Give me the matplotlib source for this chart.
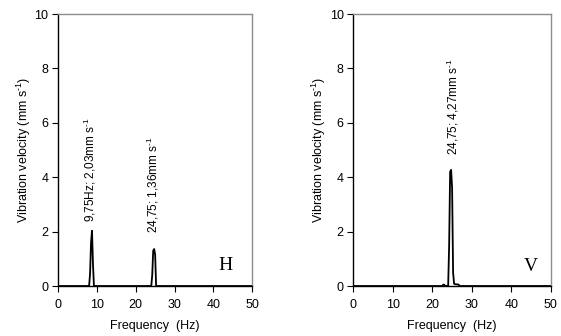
import matplotlib.pyplot as plt

plt.rcParams['font.family'] = ['Liberation Sans', 'DejaVu Sans']
plt.rcParams['mathtext.fontset'] = 'custom'
plt.rcParams['mathtext.rm'] = 'Liberation Sans'

# horizontal spectrum (H)
freq_h = [0, 8.0, 8.25, 8.5, 8.75, 9.0, 9.25, 24.0, 24.25, 24.5, 24.75, 25.0, 25.25, 50]
vel_h = [0, 0, 0.45, 1.6, 2.03, 0.8, 0, 0, 0.4, 1.3, 1.36, 1.15, 0, 0]

# vertical spectrum (V)
freq_v = [0, 22.5, 22.75, 23.0, 23.25, 24.0, 24.25, 24.5, 24.75, 25.0, 25.25, 25.5,
          26.0, 26.5, 27.0, 50]
vel_v = [0, 0, 0.05, 0.05, 0, 0, 1.5, 4.2, 4.27, 3.6, 0.5, 0.08,
         0.06, 0.06, 0, 0]

xticks = [0, 10, 20, 30, 40, 50]
yticks = [0, 2, 4, 6, 8, 10]

unit = r'mm s$^{\text{-1}}$'

fig = plt.figure(figsize=(5.61, 3.36), dpi=100)


def setup(ax):
    ax.set_xlim(0, 50)
    ax.set_ylim(0, 10)
    ax.set_xticks(xticks)
    ax.set_yticks(yticks)
    ax.tick_params(direction='out', length=4, width=0.8, labelsize=9,
                   top=False, right=False)
    ax.tick_params(axis='x', pad=5)
    ax.tick_params(axis='y', pad=3)
    for s in ['top', 'right']:
        ax.spines[s].set_color('#8c8c8c')
        ax.spines[s].set_linewidth(1.0)
    for s in ['left', 'bottom']:
        ax.spines[s].set_linewidth(1.0)
    ax.set_xlabel('Frequency  (Hz)', fontsize=9, labelpad=7)
    ax.set_ylabel('Vibration velocity (' + unit + ')', fontsize=9, labelpad=1)


ax1 = fig.add_axes([0.1034, 0.1488, 0.3463, 0.8095])
setup(ax1)
ax1.plot(freq_h, vel_h, color='black', lw=1.3)
ax1.text(8.2, 2.35, '9,75Hz; 2,03' + unit, rotation=90, fontsize=8.5,
         ha='center', va='bottom')
ax1.text(24.4, 1.95, '24,75; 1,36' + unit, rotation=90, fontsize=8.5,
         ha='center', va='bottom')
ax1.text(43.0, 0.75, 'H', fontsize=14, family='Liberation Serif',
         ha='center', va='center')

ax2 = fig.add_axes([0.6298, 0.1488, 0.3522, 0.8095])
setup(ax2)
ax2.plot(freq_v, vel_v, color='black', lw=1.3)
ax2.text(25.3, 4.8, '24,75; 4,27' + unit, rotation=90, fontsize=8.5,
         ha='center', va='bottom')
ax2.text(45.0, 0.7, 'V', fontsize=14, family='Liberation Serif',
         ha='center', va='center')

plt.savefig('out.png', dpi=100)
